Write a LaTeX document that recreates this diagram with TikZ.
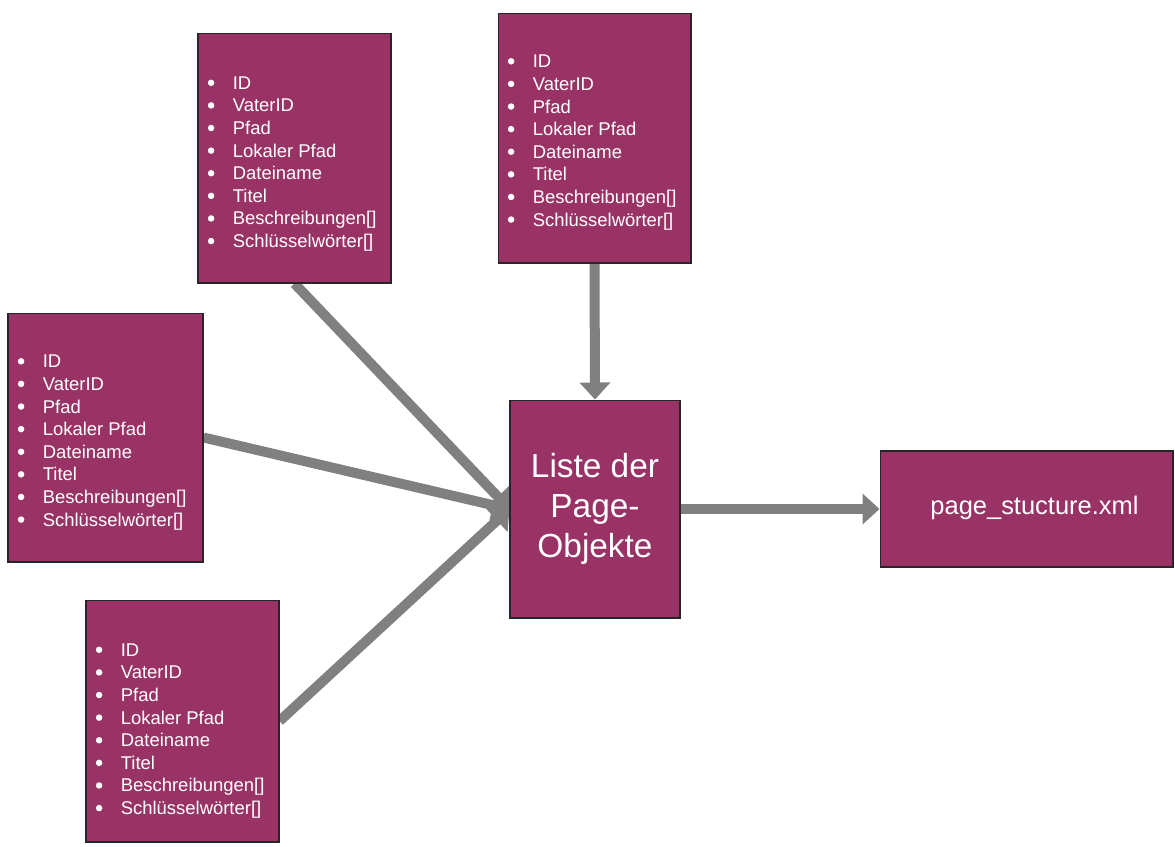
\documentclass[tikz,border=0pt]{standalone}
\usepackage{fontspec}
\setmainfont{Liberation Sans}
\usetikzlibrary{arrows.meta,backgrounds}
\definecolor{boxfill}{RGB}{153,51,102}
\definecolor{flow}{RGB}{128,128,128}
% list bullet: a small filled dot, drawn rather than set as a glyph
\newcommand\bul{\makebox[0.5cm][l]{\tikz[baseline=-3.7pt]\fill[white] (0,0) circle (0.065cm);}}
\newcommand\fieldlist{\bul ID\\\bul VaterID\\\bul Pfad\\\bul Lokaler Pfad\\\bul Dateiname\\\bul Titel\\\bul Beschreibungen[]\\\bul Schlüsselwörter[]}

\begin{document}
\begin{tikzpicture}[x=0.02cm,y=-0.02cm,
  box/.style={draw=black!85, line width=0.6pt, fill=boxfill, inner sep=0pt},
  objbox/.style={box, minimum width=3.86cm, minimum height=5cm},
  fields/.style={anchor=west, align=left, text=white, inner sep=0pt,
    font=\fontsize{10.5}{12.87}\selectfont},
  flowarrow/.style={draw=flow, line width=0.2cm,
    -{Triangle[width=0.6cm,length=0.34cm]}}]

  \useasboundingbox (0,0) rectangle (1175,846);

  % page objects
  \node[objbox] (A) at (294.5,158) {};
  \node[fields] (A-f) at ([xshift=0.2cm,yshift=-0.12cm]A.west) {\fieldlist};

  \node[objbox] (B) at (594.5,138) {};
  \node[fields] (B-f) at ([xshift=0.2cm,yshift=-0.09cm]B.west) {\fieldlist};

  \node[objbox, minimum width=3.9cm, minimum height=4.98cm] (C) at (105.5,437.5) {};
  \node[fields] (C-f) at ([xshift=0.2cm,yshift=-0.1cm]C.west) {\fieldlist};

  \node[objbox, minimum height=4.84cm] (D) at (182.5,721) {};
  \node[fields] (D-f) at ([xshift=0.2cm,yshift=-0.2cm]D.west) {\fieldlist};

  % collected list
  \node[box, minimum width=3.4cm, minimum height=4.36cm, text=white, align=center,
    font=\fontsize{19}{22.8}\selectfont] (E) at (595,509) {Liste der\\Page-\\Objekte};

  % output file
  \node[box, minimum width=5.86cm, minimum height=2.32cm] (F) at (1026.5,509) {};
  \node[text=white, inner sep=0pt, font=\fontsize{14.5}{17}\selectfont]
    (F-t) at (1034.5,508) {page\_stucture.xml};

  % connectors
  \begin{scope}[on background layer]
    \draw[flowarrow] (A.south) -- (E.west);
    \draw[flowarrow] (C.east) -- (E.west);
    \draw[flowarrow] (D.east) -- (E.west);
    \draw[flowarrow] (B.south) -- (E.north);
    \draw[flowarrow] (E.east) -- (F.west);
  \end{scope}
\end{tikzpicture}
\end{document}
